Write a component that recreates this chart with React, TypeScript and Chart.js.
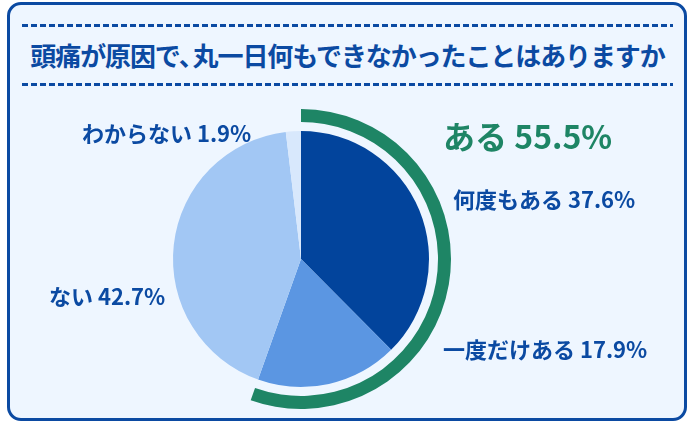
import React, { useEffect, useRef } from "react";
import { Chart, registerables } from "chart.js";

Chart.register(...registerables);

const titleHead = "頭痛が原因で";
const titleComma = "、";
const titleTail = "丸一日何もできなかったことはありますか";
const categories = ["何度もある", "一度だけある", "ない", "わからない"];
const values = [37.6, 17.9, 42.7, 1.9];
const sliceColors = ["#02449c", "#5b96e2", "#a2c7f4", "#d8e8fc"];
const groupLabels = ["ある", "その他"];
const groupValues = [55.5, 44.6];
const GREEN = "#1e8565";
const BLUE = "#0b4aa2";
const FONT = '"Noto Sans CJK JP", "Noto Sans", sans-serif';

function fmt(v: number) {
  return v.toFixed(1) + "%";
}

export default function App() {
  const ref = useRef<HTMLCanvasElement | null>(null);

  useEffect(() => {
    if (!ref.current) return;
    const chart = new Chart(ref.current, {
      type: "pie",
      data: {
        labels: categories,
        datasets: [
          {
            label: "group",
            data: groupValues,
            backgroundColor: [GREEN, "rgba(0,0,0,0)"],
            borderWidth: 0,
            weight: 13,
          } as any,
          {
            label: "gap",
            data: [1],
            backgroundColor: ["rgba(0,0,0,0)"],
            borderWidth: 0,
            weight: 9,
          } as any,
          {
            label: "answers",
            data: values,
            backgroundColor: sliceColors,
            borderWidth: 0,
            weight: 128,
          } as any,
        ],
      },
      options: {
        animation: false,
        responsive: false,
        maintainAspectRatio: false,
        events: [],
        layout: { padding: 0 },
        plugins: {
          legend: { display: false },
          tooltip: { enabled: false },
          title: { display: false },
        },
      },
    });
    return () => chart.destroy();
  }, []);

  const label = (
    text: string,
    left: number,
    cy: number,
    size: number,
    color: string
  ) => (
    <div
      style={{
        position: "absolute",
        left,
        top: cy,
        transform: "translateY(-50%)",
        fontFamily: FONT,
        fontWeight: 700,
        fontSize: size,
        lineHeight: 1,
        color,
        whiteSpace: "nowrap",
      }}
    >
      {text}
    </div>
  );

  const dashed = (top: number) => (
    <div
      style={{
        position: "absolute",
        left: 22,
        top,
        width: 651,
        height: 3,
        background: `repeating-linear-gradient(to right, ${BLUE} 0px, ${BLUE} 6px, transparent 6px, transparent 9px)`,
      }}
    />
  );

  return (
    <div
      style={{
        position: "absolute",
        left: 0,
        top: 0,
        width: 700,
        height: 425,
        background: "#ffffff",
        overflow: "hidden",
      }}
    >
      <div
        style={{
          position: "absolute",
          left: 7,
          top: 2,
          width: 680,
          height: 419,
          boxSizing: "border-box",
          border: `3px solid ${BLUE}`,
          borderRadius: 14,
          background: "#eef6ff",
        }}
      />
      {dashed(24)}
      {dashed(83)}
      <div
        style={{
          position: "absolute",
          left: 22,
          width: 651,
          top: 55,
          transform: "translateY(-50%)",
          textAlign: "center",
          fontFamily: FONT,
          fontWeight: 700,
          fontSize: 26,
          letterSpacing: -1.1,
          lineHeight: 1,
          color: BLUE,
          whiteSpace: "nowrap",
        }}
      >
        {titleHead}
        <span style={{ marginRight: -11 }}>{titleComma}</span>
        {titleTail}
      </div>
      <canvas
        ref={ref}
        width={300}
        height={300}
        style={{ position: "absolute", left: 151, top: 109, width: 300, height: 300 }}
      />
      {label(`${groupLabels[0]} ${fmt(groupValues[0])}`, 443, 135, 32, GREEN)}
      {label(`${categories[0]} ${fmt(values[0])}`, 453, 198, 22, BLUE)}
      {label(`${categories[1]} ${fmt(values[1])}`, 443, 348, 22, BLUE)}
      {label(`${categories[2]} ${fmt(values[2])}`, 49, 295, 22, BLUE)}
      {label(`${categories[3]} ${fmt(values[3])}`, 82, 132, 22, BLUE)}
    </div>
  );
}
